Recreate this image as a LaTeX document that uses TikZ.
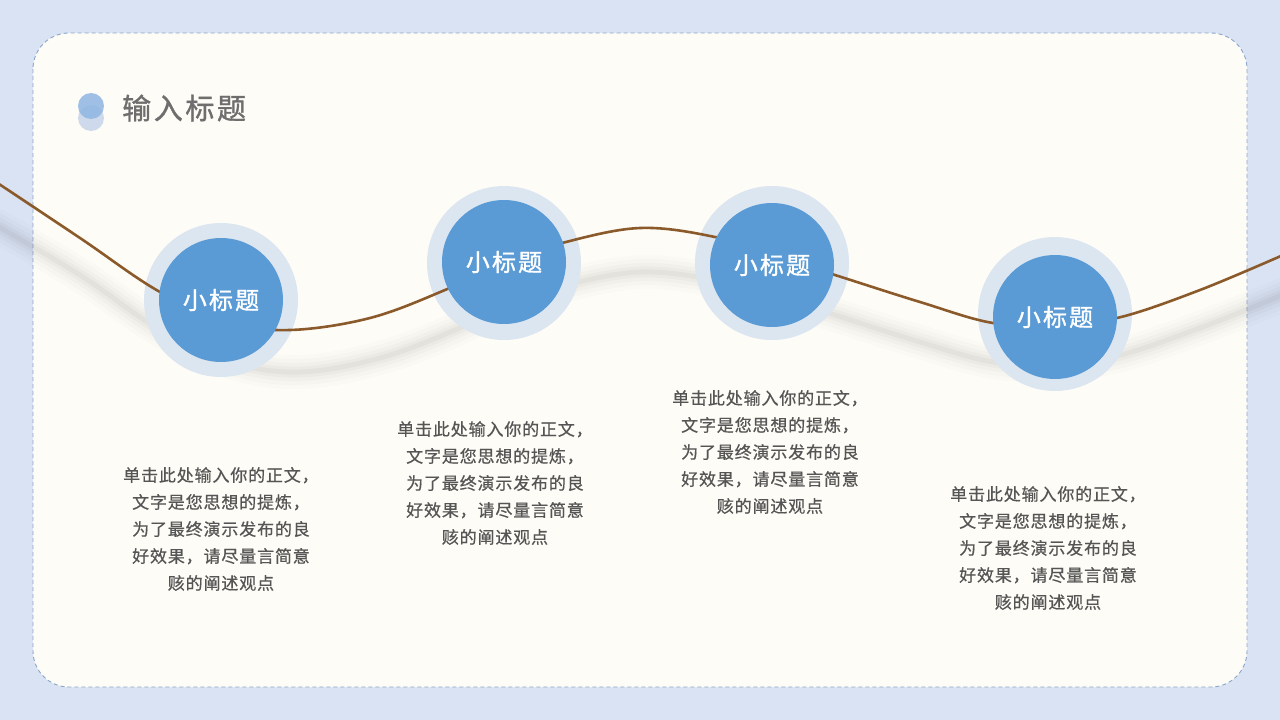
\documentclass[tikz,border=0pt]{standalone}
\usepackage{fontspec}
\setmainfont{Noto Sans CJK SC}
\newfontfamily\bodyfont{Noto Sans CJK SC}[FakeBold=0.6, LetterSpace=5]
\newfontfamily\headfont{Noto Sans CJK SC}[FakeBold=1.2, LetterSpace=9]
\definecolor{bgblue}{HTML}{DAE3F3}
\definecolor{card}{HTML}{FEFCF6}
\definecolor{cardline}{HTML}{8BA6C9}
\definecolor{ringc}{HTML}{DCE6F1}
\definecolor{discc}{HTML}{5B9BD5}
\definecolor{brownc}{HTML}{8B5A2B}
\definecolor{txtc}{HTML}{555555}
\definecolor{titlec}{HTML}{6E6E6E}
\definecolor{dotA}{HTML}{8FB6E2}
\definecolor{dotB}{HTML}{CFD9EC}
\tikzset{
  ring/.style={circle, fill=ringc, minimum size=154pt, inner sep=0pt},
  disc/.style={circle, fill=discc, minimum size=124pt, inner sep=0pt, text=white, font=\headfont\fontsize{24}{24}\selectfont},
  body/.style={align=center, text=txtc, font=\bodyfont\fontsize{17}{27}\selectfont, inner sep=0pt},
  wave/.style={draw=brownc, line width=2.6pt, line cap=round},
}
\begin{document}
\begin{tikzpicture}[x=1pt,y=-1pt]
\useasboundingbox (0,0) rectangle (1280,720);
\fill[bgblue] (0,0) rectangle (1280,720);
\fill[card, rounded corners=36pt] (33,33) rectangle (1247,687);
\draw[cardline, line width=0.9pt, dash pattern=on 4pt off 3pt, rounded corners=36pt] (33,33) rectangle (1247,687);
\begin{scope}
\clip (0,0) rectangle (1280,720);
% shadow of the wave
\foreach \w/\o in {34/0.012, 26/0.015, 18/0.02, 11/0.025, 5/0.03}{
  \draw[black, opacity=\o, line width=\w pt, line cap=round]
    plot[smooth, tension=0.6] coordinates {(-10,222) (80,275) (160,330) (230,362) (300,372) (380,358) (455,330) (504,305) (562,286) (640,272) (715,280) (772,295) (835,315) (920,342) (993,362) (1055,364) (1117,356) (1200,328) (1290,292)};
}
\end{scope}
% rings
\node[ring] (r1) at (221,300) {};
\node[ring] (r2) at (504,263) {};
\node[ring] (r3) at (772,263) {};
\node[ring] (r4) at (1055,314) {};
% wave
\begin{scope}
\clip (0,0) rectangle (1280,720);
\draw[wave] plot[smooth, tension=0.6] coordinates {(-10,178) (80,238) (160,292) (230,322) (290,330) (370,318) (445,290) (504,262) (562,243) (640,228) (715,237) (772,255) (835,275) (920,302) (993,323) (1055,324) (1117,318) (1200,290) (1290,252)};
\end{scope}
% discs
\node[disc] (c1) at (221,300) {小标题};
\node[disc] (c2) at (504,262) {小标题};
\node[disc] (c3) at (772,265) {小标题};
\node[disc] (c4) at (1055,317) {小标题};
% title
\fill[dotB] (91,118) circle (13);
\fill[dotA, opacity=0.85] (91,106) circle (13);
\node[anchor=west, text=titlec, font=\headfont\fontsize{29}{29}\selectfont, inner sep=0pt] (title) at (122,108) {输入标题};
% body texts
\node[body] (t1) at (221,529) {单击此处输入你的正文，\\文字是您思想的提炼，\\为了最终演示发布的良\\好效果，请尽量言简意\\赅的阐述观点};
\node[body] (t2) at (495,483) {单击此处输入你的正文，\\文字是您思想的提炼，\\为了最终演示发布的良\\好效果，请尽量言简意\\赅的阐述观点};
\node[body] (t3) at (770,452) {单击此处输入你的正文，\\文字是您思想的提炼，\\为了最终演示发布的良\\好效果，请尽量言简意\\赅的阐述观点};
\node[body] (t4) at (1048,548) {单击此处输入你的正文，\\文字是您思想的提炼，\\为了最终演示发布的良\\好效果，请尽量言简意\\赅的阐述观点};
\end{tikzpicture}
\end{document}
